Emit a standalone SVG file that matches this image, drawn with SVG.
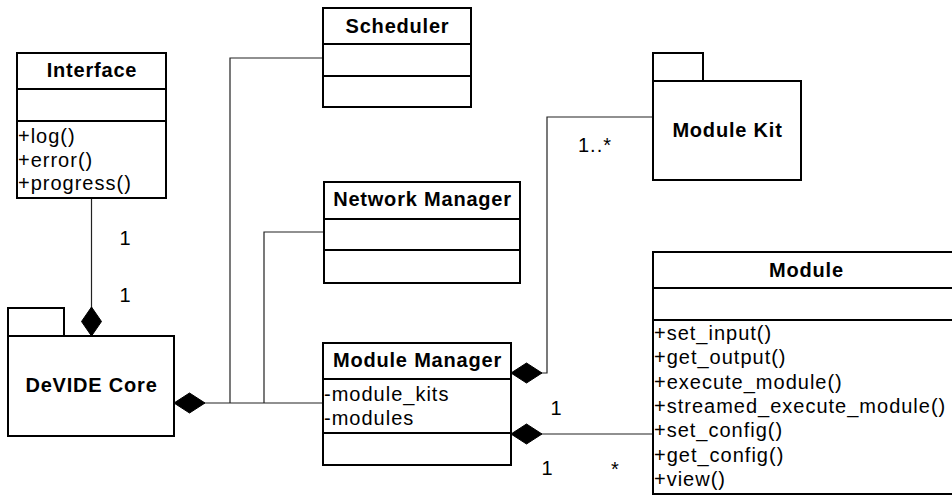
<svg xmlns="http://www.w3.org/2000/svg" width="952" height="496" viewBox="0 0 952 496">
<style>
.box{fill:#fff;stroke:#000;stroke-width:2}
.sep{stroke:#000;stroke-width:2}
.ln{fill:none;stroke:#222;stroke-width:1.2}
.dia{fill:#000;stroke:#000;stroke-width:1}
text{font-family:"Liberation Sans",Arial,Helvetica,sans-serif;font-size:20px;letter-spacing:1px;fill:#000}
.t{font-weight:bold;text-anchor:middle;letter-spacing:0.8px}
.lbl{letter-spacing:1px}
</style>
<rect width="952" height="496" fill="#fff"/>
<g id="connectors">
<polyline class="ln" points="91.5,198 91.5,308"/>
<polygon class="dia" points="91.5,307 101.5,321.5 91.5,336 81.5,321.5"/>
<polyline class="ln" points="323,58 230,58 230,403"/>
<polyline class="ln" points="324,232 264,232 264,403"/>
<polyline class="ln" points="204,403 323,403"/>
<polygon class="dia" points="174,403 189.5,393 205,403 189.5,413"/>
<polyline class="ln" points="653,117 547,117 547,373 541,373"/>
<polygon class="dia" points="511,373 526.5,363 542,373 526.5,383"/>
<polyline class="ln" points="541,434 653,434"/>
<polygon class="dia" points="511,434 526.5,424 542,434 526.5,444"/>
<text class="lbl" x="125.5" y="245" text-anchor="middle">1</text>
<text class="lbl" x="125.5" y="302" text-anchor="middle">1</text>
<text class="lbl" x="578" y="152">1..*</text>
<text class="lbl" x="556.5" y="415" text-anchor="middle">1</text>
<text class="lbl" x="547.5" y="475" text-anchor="middle">1</text>
<text class="lbl" x="615.5" y="476" text-anchor="middle">*</text>
</g>
<g id="interface">
<rect class="box" x="17" y="53" width="149" height="145"/>
<line class="sep" x1="17" y1="89" x2="166" y2="89"/>
<line class="sep" x1="17" y1="121" x2="166" y2="121"/>
<text class="t" x="92" y="77">Interface</text>
<text x="18" y="143">+log()</text>
<text x="18" y="166.5">+error()</text>
<text x="18" y="190">+progress()</text>
</g>
<g id="scheduler">
<rect class="box" x="323" y="8" width="148" height="99"/>
<line class="sep" x1="323" y1="44" x2="471" y2="44"/>
<line class="sep" x1="323" y1="76" x2="471" y2="76"/>
<text class="t" x="397.5" y="33">Scheduler</text>
</g>
<g id="network-manager">
<rect class="box" x="324" y="182" width="196" height="101"/>
<line class="sep" x1="324" y1="219" x2="520" y2="219"/>
<line class="sep" x1="324" y1="250" x2="520" y2="250"/>
<text class="t" x="422.5" y="206">Network Manager</text>
</g>
<g id="module-kit">
<rect class="box" x="653" y="53" width="50" height="28"/>
<rect class="box" x="653" y="81" width="148" height="99"/>
<text class="t" x="727.5" y="137">Module Kit</text>
</g>
<g id="devide-core">
<rect class="box" x="8" y="308" width="56" height="28"/>
<rect class="box" x="8" y="336" width="166" height="100"/>
<text class="t" x="91.5" y="392">DeVIDE Core</text>
</g>
<g id="module-manager">
<rect class="box" x="323" y="343" width="188" height="122"/>
<line class="sep" x1="323" y1="379" x2="511" y2="379"/>
<line class="sep" x1="323" y1="433" x2="511" y2="433"/>
<text class="t" x="417.5" y="367">Module Manager</text>
<text x="324" y="401">-module_kits</text>
<text x="324" y="425">-modules</text>
</g>
<g id="module">
<rect class="box" x="653" y="252" width="306" height="242"/>
<line class="sep" x1="653" y1="288" x2="959" y2="288"/>
<line class="sep" x1="653" y1="320" x2="959" y2="320"/>
<text class="t" x="806.5" y="277">Module</text>
<text x="654" y="340">+set_input()</text>
<text x="654" y="364.3">+get_output()</text>
<text x="654" y="388.6">+execute_module()</text>
<text x="654" y="412.9">+streamed_execute_module()</text>
<text x="654" y="437.2">+set_config()</text>
<text x="654" y="461.5">+get_config()</text>
<text x="654" y="485.8">+view()</text>
</g>
</svg>
